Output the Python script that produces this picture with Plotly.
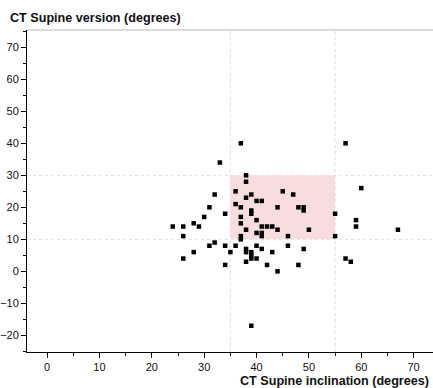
import plotly.graph_objects as go

inclination = [37, 57, 33, 38, 38, 60, 36, 45, 32, 39, 47, 38, 40, 41, 36, 31, 37, 44, 48, 49,
               39, 49, 39, 34, 55, 30, 37, 40, 59, 28, 37, 24, 26, 29, 41, 42, 43, 59, 38, 44,
               50, 67, 40, 41, 41, 37, 37, 26, 46, 55, 32, 31, 34, 36, 40, 46, 38, 41, 49, 38,
               28, 35, 43, 39, 39, 39, 26, 40, 57, 38, 58, 34, 42, 48, 44, 39]
version = [40, 40, 34, 30, 28, 26, 25, 25, 24, 24, 24, 23, 22, 22, 21, 20, 20, 20, 20, 20,
           19, 19, 18, 18, 18, 17, 17, 16, 16, 15, 15, 14, 14, 14, 14, 14, 14, 14, 13, 13,
           13, 13, 12, 12, 11, 11, 10, 11, 11, 11, 9, 8, 8, 8, 8, 8, 7, 7, 7, 6,
           6, 6, 6, 6, 5, 4, 4, 4, 4, 3, 3, 2, 2, 2, 0, -17]

safe_incl = [35, 55]
safe_vers = [10, 30]
x_ticks = [0, 10, 20, 30, 40, 50, 60, 70]
y_ticks = [-20, -10, 0, 10, 20, 30, 40, 50, 60, 70]

W, H = 433, 388
ML, MR, MT, MB = 27, 0, 30, 36
PW, PH = W - ML - MR, H - MT - MB

fig = go.Figure()
fig.add_trace(go.Scatter(
    x=inclination, y=version, mode="markers",
    marker=dict(symbol="square", size=4.5, color="black", line=dict(width=0)),
    showlegend=False, hoverinfo="x+y"))

shapes = [
    dict(type="rect", xref="x", yref="y", x0=safe_incl[0], x1=safe_incl[1],
         y0=safe_vers[0], y1=safe_vers[1], fillcolor="#f8dddd", line=dict(width=0), layer="below"),
]
for xv in safe_incl:
    shapes.append(dict(type="line", xref="x", yref="paper", x0=xv, x1=xv, y0=0, y1=1,
                       line=dict(color="#dcdcdc", width=1, dash="dot"), layer="below"))
for yv in safe_vers:
    shapes.append(dict(type="line", xref="paper", yref="y", x0=0, x1=1, y0=yv, y1=yv,
                       line=dict(color="#dcdcdc", width=1, dash="dot"), layer="below"))
shapes.append(dict(type="line", xref="paper", yref="paper", x0=0, x1=1, y0=1, y1=1,
                   line=dict(color="#bbbbbb", width=1)))

fig.update_layout(
    width=W, height=H,
    margin=dict(l=ML, r=MR, t=MT, b=MB, pad=0, autoexpand=False),
    paper_bgcolor="white", plot_bgcolor="white",
    font=dict(family="Liberation Sans, Arial, sans-serif", size=11, color="#111"),
    shapes=shapes,
    annotations=[
        dict(text="CT Supine version (degrees)", xref="paper", yref="paper",
             x=(8 - ML) / PW, xanchor="left", y=1 + (MT - 18) / PH, yanchor="middle",
             showarrow=False, font=dict(size=12.6, color="#111", weight="bold")),
        dict(text="CT Supine inclination (degrees)", xref="paper", yref="paper",
             x=(431 - ML) / PW, xanchor="right", y=-(381 - (H - MB)) / PH, yanchor="middle",
             showarrow=False, font=dict(size=12.6, color="#111", weight="bold")),
    ],
)
fig.update_xaxes(range=[-3.84, 73.7], tickvals=x_ticks, showgrid=False, zeroline=False,
                 automargin=False,
                 showline=True, linecolor="black", linewidth=1, ticks="outside", ticklen=5,
                 tickcolor="black",
                 minor=dict(ticks="outside", ticklen=3, dtick=5, tick0=0, tickcolor="black", showgrid=False))
fig.update_yaxes(range=[-25.2, 75.4], tickvals=y_ticks, showgrid=False, zeroline=False,
                 automargin=False,
                 showline=True, linecolor="black", linewidth=1, ticks="outside", ticklen=5,
                 tickcolor="black",
                 minor=dict(ticks="outside", ticklen=3, dtick=5, tick0=0, tickcolor="black", showgrid=False))

fig.write_html("out.html", config={"displayModeBar": False},
               post_script="document.body.style.margin='0';document.body.style.overflow='hidden';")
